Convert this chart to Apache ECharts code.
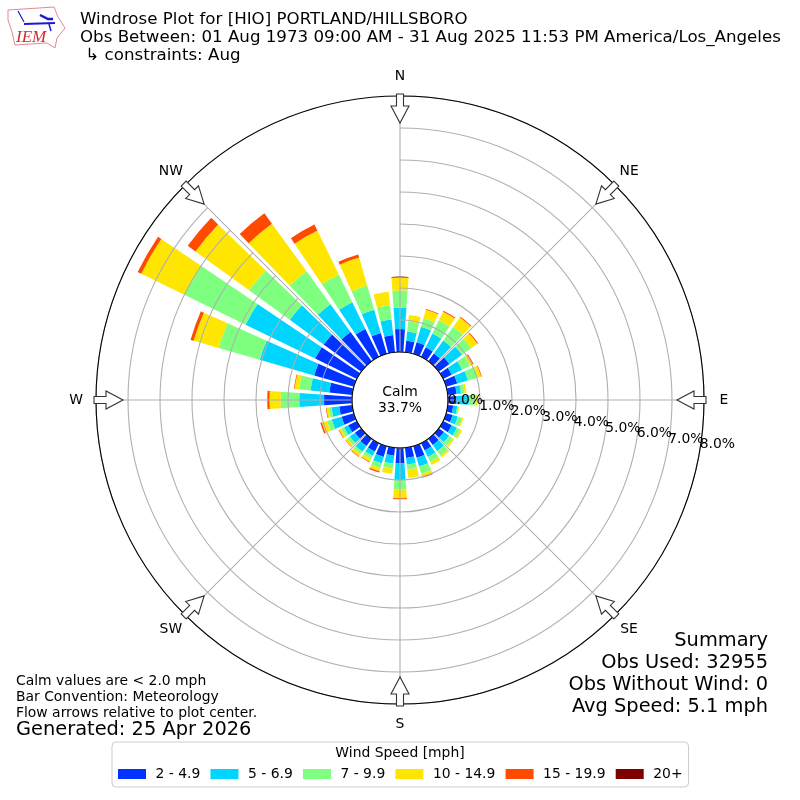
<!DOCTYPE html>
<html><head><meta charset="utf-8">
<style>html,body{margin:0;padding:0;background:#fff}#c{width:800px;height:800px}</style>
<script src="https://cdn.jsdelivr.net/npm/echarts@6/dist/echarts.min.js"></script>
</head><body><div id="c"></div>
<script>
const directions = ['0','10','20','30','40','50','60','70','80','90','100','110','120','130','140','150','160','170','180','190','200','210','220','230','240','250','260','270','280','290','300','310','320','330','340','350'];
const speed2to5 =  [.72,.36,.38,.33,.30,.41,.30,.36,.28,.27,.17,.21,.30,.20,.24,.25,.38,.32,.48,.25,.35,.29,.28,.24,.30,.40,.41,.875,.72,1.29,1.45,1.45,1.13,.97,.68,.54];
const speed5to7 =  [.66,.29,.50,.48,.50,.49,.36,.35,.14,.38,.13,.17,.18,.20,.24,.23,.28,.21,.52,.25,.21,.15,.22,.20,.15,.32,.24,.775,.59,1.77,2.42,1.31,1.07,.93,.75,.49];
const speed7to10 = [.54,.32,.28,.46,.53,.35,.28,.32,.11,.21,.04,.14,.12,.13,.17,.18,.24,.16,.29,.16,.16,.11,.09,.10,.10,.15,.09,.58,.36,1.34,2.13,1.57,1.27,.96,.79,.45];
const speed10to15 =[.40,.20,.27,.30,.36,.24,.09,.11,.06,.07,.02,.04,.06,.07,.07,.10,.10,.26,.28,.16,.10,.10,.09,.07,.07,.17,.07,.35,.14,.81,1.50,2.07,1.84,1.53,.91,.42];
const speed15to20 =[.03,0,.03,.03,.03,.03,.03,.02,0,0,0,0,0,0,0,0,.03,0,.03,0,.04,.02,.02,.01,.02,.05,.02,.07,.02,.10,.12,.30,.40,.21,.10,0];
const speed20up =  directions.map(()=>0);
const speedNames = ['2 - 4.9','5 - 6.9','7 - 9.9','10 - 14.9','15 - 19.9','20+'];
const speedColors = ['#0033ff','#00d5ff','#7fff7f','#ffe600','#ff4a00','#7f0000'];
const speedValues = [speed2to5,speed5to7,speed7to10,speed10to15,speed15to20,speed20up];
const compass = ['N','NE','E','SE','S','SW','W','NW'];
const radiusTickValues = [0,1,2,3,4,5,6,7,8];
const radiusTicks = {min:0,max:8,interval:1};
const summary = ['Summary','Obs Used: 32955','Obs Without Wind: 0','Avg Speed: 5.1 mph'];
const notes = ['Calm values are < 2.0 mph','Bar Convention: Meteorology','Flow arrows relative to plot center.'];
const titles = ['Windrose Plot for [HIO] PORTLAND/HILLSBORO','Obs Between: 01 Aug 1973 09:00 AM - 31 Aug 2025 11:53 PM America/Los_Angeles',' \u21b3 constraints: Aug'];

const F='"DejaVu Sans"';
const CX=400,CY=400,R0=48,R1=304;
const polarBase={center:[CX,CY],radius:[R0,R1]};
const graphics=[];
titles.forEach((t,i)=>graphics.push({type:'text',x:80,y:20+i*18,z:20,style:{text:t,font:'16.67px '+F,fill:'#000',textVerticalAlign:'middle'}}));
summary.forEach((t,i)=>graphics.push({type:'text',x:768,y:641+i*22,z:20,style:{text:t,font:'19.4px '+F,fill:'#000',textAlign:'right',textVerticalAlign:'middle'}}));
notes.forEach((t,i)=>graphics.push({type:'text',x:16,y:681+i*16,z:20,style:{text:t,font:'13.9px '+F,fill:'#000',textVerticalAlign:'middle'}}));
graphics.push({type:'text',x:16,y:730,z:20,style:{text:'Generated: 25 Apr 2026',font:'19.4px '+F,fill:'#000',textVerticalAlign:'middle'}});
graphics.push({type:'text',x:CX,y:CY,z:20,style:{text:'Calm\n33.7%',font:'13.9px '+F,lineHeight:16,fill:'#000',textAlign:'center',textVerticalAlign:'middle'}});
graphics.push({type:'text',x:400,y:753,z:20,style:{text:'Wind Speed [mph]',font:'13.9px '+F,fill:'#000',textAlign:'center',textVerticalAlign:'middle'}});
// flow arrows
compass.forEach((c,i)=>{
  graphics.push({type:'polygon',x:CX,y:CY,rotation:-i*Math.PI/4,z:15,
    shape:{points:[[-3.5,-306],[3.5,-306],[3.5,-294],[9,-294],[0,-277],[-9,-294],[-3.5,-294]]},
    style:{fill:'#fff',stroke:'#333',lineWidth:1.1}});
});
// logo
graphics.push({type:'polyline',z:20,shape:{points:[[8,10],[54,7],[58,17],[65,28],[57,38],[55,48],[47,43],[15,45],[12,32],[8,20],[8,10]]},style:{fill:'none',stroke:'#e58a8a',lineWidth:1}});
graphics.push({type:'polyline',z:20,shape:{points:[[24,24],[55,23]]},style:{stroke:'#1a1ad0',lineWidth:2,fill:'none'}});
graphics.push({type:'polyline',z:20,shape:{points:[[18,11],[24,22]]},style:{stroke:'#1a1ad0',lineWidth:1.2,fill:'none'}});
graphics.push({type:'polyline',z:20,shape:{points:[[40,15],[48,19],[53,19]]},style:{stroke:'#1a1ad0',lineWidth:2.5,fill:'none'}});
graphics.push({type:'polyline',z:20,shape:{points:[[49,24],[51,31]]},style:{stroke:'#1a1ad0',lineWidth:1.5,fill:'none'}});
graphics.push({type:'text',x:16,y:38,z:20,style:{text:'IEM',font:'italic 17px "Liberation Serif"',fill:'#d42a2a',textVerticalAlign:'middle'}});

const series=speedNames.map((n,i)=>({
  name:n,type:'bar',coordinateSystem:'polar',polarIndex:0,stack:'wind',barWidth:8,
  data:speedValues[i],itemStyle:{color:speedColors[i]},silent:true,animation:false,z:2
}));
series.push({name:'compass',type:'scatter',coordinateSystem:'polar',polarIndex:1,symbolSize:0,silent:true,animation:false,z:12,clip:false,
  itemStyle:{opacity:1},
  data:compass.map(c=>[8.625,c]),
  label:{show:true,position:'inside',align:'center',verticalAlign:'middle',formatter:p=>p.value[1],color:'#000',opacity:1,textBorderWidth:0,fontFamily:F,fontSize:13.9}});
series.push({name:'radialTicks',type:'scatter',coordinateSystem:'polar',polarIndex:2,symbolSize:0,silent:true,animation:false,z:12,clip:false,
  itemStyle:{opacity:1},
  data:radiusTickValues.map(v=>[v,10]),
  label:{show:true,position:'inside',align:'center',verticalAlign:'middle',formatter:p=>p.value[0].toFixed(1)+'%',color:'#000',opacity:1,textBorderWidth:0,fontFamily:F,fontSize:13.9}});

const option={
  animation:false,backgroundColor:'#fff',
  polar:[polarBase,polarBase,{center:[CX+18,CY-8],radius:[R0,R1]}],
  angleAxis:[
    {polarIndex:0,type:'category',data:directions,boundaryGap:false,startAngle:90,clockwise:true,show:false},
    {polarIndex:1,type:'category',data:compass,boundaryGap:false,startAngle:90,clockwise:true,z:5,
      axisLine:{show:true,lineStyle:{color:'#000',width:1.1}},axisTick:{show:false},
      axisLabel:{show:false},
      splitLine:{show:true,interval:0,lineStyle:{color:'#b0b0b0',width:1.1}}},
    {polarIndex:2,type:'value',min:0,max:360,startAngle:0,clockwise:true,show:false}
  ],
  radiusAxis:[
    {polarIndex:0,type:'value',...radiusTicks,show:false},
    {polarIndex:1,type:'value',...radiusTicks,z:4,axisLine:{show:false},axisTick:{show:false},axisLabel:{show:false},
      splitLine:{show:true,lineStyle:{color:'#b0b0b0',width:1.1}}},
    {polarIndex:2,type:'value',...radiusTicks,show:false}
  ],
  legend:{left:112,top:742,orient:'horizontal',padding:[25,6,6,6],itemWidth:28,itemHeight:10,itemGap:10.2,
    icon:'rect',borderColor:'#ccc',borderWidth:1,borderRadius:4,backgroundColor:'#fff',
    textStyle:{fontFamily:F,fontSize:13.9,color:'#000',padding:[0,0,0,4.5]},data:speedNames,selectedMode:false},
  series,
  graphic:graphics
};
const chart=echarts.init(document.getElementById('c'),null,{renderer:'canvas',width:800,height:800});
chart.setOption(option);
</script></body></html>
